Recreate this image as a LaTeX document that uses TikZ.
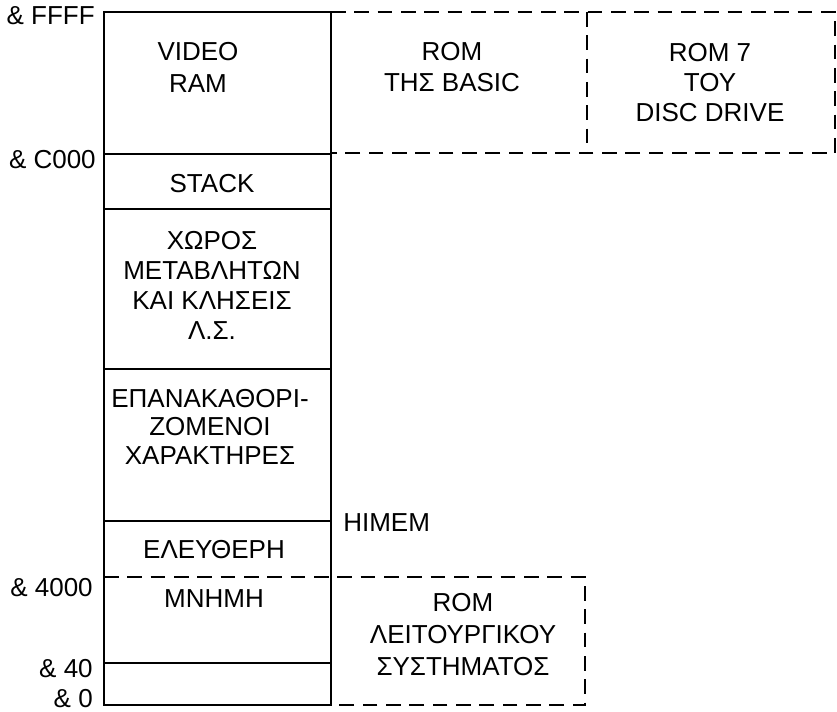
\documentclass[tikz,border=0pt]{standalone}
\usepackage{fontspec}
\setmainfont{Liberation Sans}
\begin{document}
\begin{tikzpicture}[x=0.75pt,y=-0.75pt,
  solidline/.style={line width=1.5pt, line join=miter},
  dashline/.style={line width=1.5pt, dash pattern=on 11pt off 6.5pt},
  lbl/.style={font=\fontsize{19.5}{23.5}\selectfont, inner sep=0pt},
  blk/.style={font=\fontsize{19.5}{#1}\selectfont, align=center, inner sep=0pt}]
\useasboundingbox (0,0) rectangle (837,712);
% main column
\coordinate (mTL) at (104,12);
\coordinate (mTR) at (331,12);
\coordinate (mBR) at (331,705);
\coordinate (mBL) at (104,705);
\draw[solidline] (mTL) -- (mTR) -- (mBR) -- (mBL) -- cycle;
\draw[solidline] (104,154) -- (331,154);
\draw[solidline] (104,209) -- (331,209);
\draw[solidline] (104,369) -- (331,369);
\draw[solidline] (104,521) -- (331,521);
\draw[solidline] (104,663) -- (331,663);
% dashed ROM areas
\draw[dashline] (104,577) -- (585,577) -- (585,705) -- (331,705);
\draw[dashline] (331,12) -- (835,12) -- (835,153) -- (331,153);
\draw[dashline] (587,12) -- (587,153);
% address labels
\node[lbl, anchor=base east] (aFFFF) at (95,25) {\& FFFF};
\node[lbl, anchor=base east] (aC000) at (96,169) {\& C000};
\node[lbl, anchor=base east] (a4000) at (93,596) {\& 4000};
\node[lbl, anchor=base east] (a40) at (93,677) {\& 40};
\node[lbl, anchor=base east] (a0) at (93,707) {\& 0};
\node[lbl, anchor=base west] (himem) at (343,531) {HIMEM};
% block texts
\node[blk=23.6pt] (video) at (198,67.5) {VIDEO\\RAM};
\node[lbl, anchor=base] (stack) at (212,193) {STACK};
\node[blk=22.5pt] (xoros) at (212,285) {ΧΩΡΟΣ\\ΜΕΤΑΒΛΗΤΩΝ\\ΚΑΙ ΚΛΗΣΕΙΣ\\Λ.Σ.};
\node[blk=21.4pt] (epana) at (210,426.5) {ΕΠΑΝΑΚΑΘΟΡΙ-\\ΖΟΜΕΝΟΙ\\ΧΑΡΑΚΤΗΡΕΣ};
\node[lbl, anchor=base] (elef) at (214,558) {ΕΛΕΥΘΕΡΗ};
\node[lbl, anchor=base] (mnimi) at (214,607) {ΜΝΗΜΗ};
\node[blk=23.3pt] (rombasic) at (452,67.5) {ROM\\ΤΗΣ BASIC};
\node[blk=22.5pt] (rom7) at (710,82.5) {ROM 7\\ΤΟΥ\\DISC DRIVE};
\node[blk=24pt] (romos) at (463,635) {ROM\\ΛΕΙΤΟΥΡΓΙΚΟΥ\\ΣΥΣΤΗΜΑΤΟΣ};
\end{tikzpicture}
\end{document}
